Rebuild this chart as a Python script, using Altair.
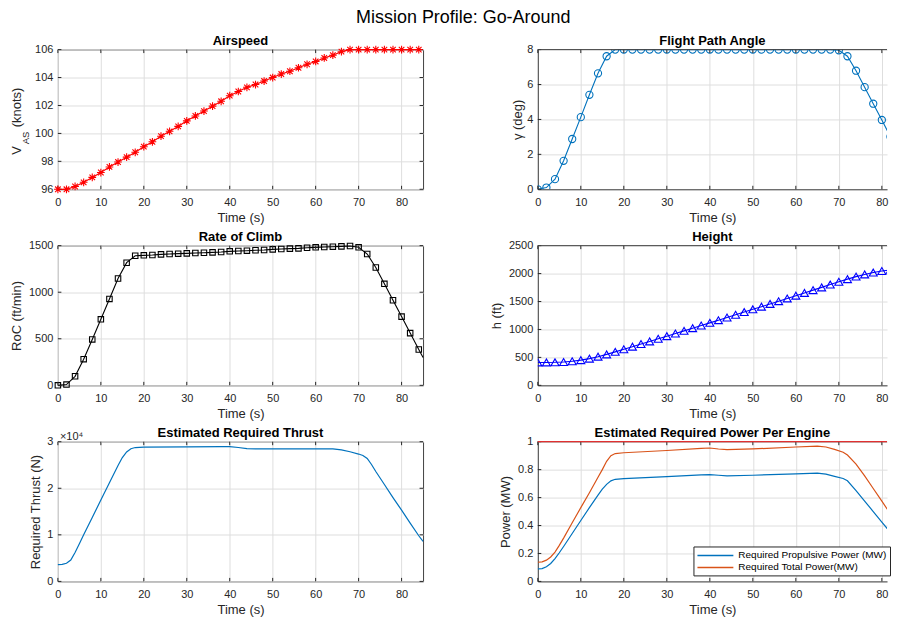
import altair as alt
import pandas as pd

FONT = "Liberation Sans"
INK = "#262626"
BOX = "#404040"

TIME_TICKS = [0, 10, 20, 30, 40, 50, 60, 70, 80]

# marker sample times (s)
T_MARK = [0, 2, 4, 6, 8, 10, 12, 14, 16, 18, 20, 22, 24, 26, 28, 30, 32, 34, 36, 38, 40,
          42, 44, 46, 48, 50, 52, 54, 56, 58, 60, 62, 64, 66, 68, 70, 72, 74, 76, 78, 80, 82, 84]

AIRSPEED = [96.0, 96.0, 96.2, 96.5, 96.85, 97.2, 97.6, 97.95, 98.3, 98.65, 99.05, 99.4, 99.8,
            100.15, 100.5, 100.9, 101.25, 101.6, 101.95, 102.3, 102.7, 103.0, 103.3, 103.5,
            103.75, 104.0, 104.25, 104.45, 104.7, 104.95, 105.15, 105.4, 105.6, 105.85, 106.0,
            106.0, 106.0, 106.0, 106.0, 106.0, 106.0, 106.0, 106.0]

GAMMA = [0.0, 0.1, 0.58, 1.63, 2.88, 4.13, 5.41, 6.64, 7.62, 8.0, 8.0, 8.0, 8.0, 8.0, 8.0,
         8.0, 8.0, 8.0, 8.0, 8.0, 8.0, 8.0, 8.0, 8.0, 8.0, 8.0, 8.0, 8.0, 8.0, 8.0, 8.0, 8.0,
         8.0, 8.0, 8.0, 7.96, 7.62, 6.79, 5.85, 4.9, 3.97, 3.01, 2.09]

ROC = [0, 8, 97, 281, 493, 709, 928, 1147, 1317, 1392, 1396, 1399, 1406, 1410, 1414, 1417,
       1421, 1424, 1428, 1432, 1439, 1442, 1446, 1450, 1453, 1460, 1464, 1468, 1471, 1478,
       1482, 1485, 1489, 1492, 1496, 1482, 1410, 1266, 1090, 914, 738, 561, 385]

HEIGHT = [410, 410, 412, 418, 431, 451, 478, 513, 554, 599, 646, 692, 739, 786, 833, 880,
          928, 975, 1023, 1070, 1118, 1166, 1214, 1263, 1311, 1360, 1408, 1457, 1506, 1555,
          1605, 1654, 1704, 1753, 1803, 1853, 1901, 1946, 1985, 2018, 2046, 2067, 2083]

# line continues to the right edge of the axes
T_END = [85]
GAMMA_END = [1.6]
ROC_END = [300]
HEIGHT_END = [2090]

T_THRUST = [0, 1, 2, 3, 4, 5, 6, 8, 10, 12, 14, 15, 16, 17, 18, 20, 30, 38, 40, 42, 44, 46,
            55, 64, 66, 68, 70, 71, 72, 73, 74, 76, 78, 80, 82, 84, 85]
THRUST = [3600, 3650, 3900, 4600, 6200, 8100, 10000, 13700, 17500, 21200, 24900, 26600,
          27800, 28500, 28750, 28850, 28900, 28950, 28950, 28750, 28500, 28450, 28450, 28450,
          28250, 27850, 27350, 27050, 26400, 25100, 23600, 20800, 18000, 15300, 12500, 9800,
          8600]

T_POWER = [0, 1, 2, 3, 4, 5, 6, 8, 10, 12, 14, 15, 16, 17, 18, 20, 30, 38, 40, 42, 44, 50,
           60, 65, 67, 69, 71, 72, 74, 76, 78, 80, 82, 84, 85]
P_PROP = [0.089, 0.092, 0.105, 0.128, 0.163, 0.205, 0.25, 0.343, 0.436, 0.528, 0.618, 0.66,
          0.695, 0.72, 0.731, 0.736, 0.75, 0.762, 0.765, 0.76, 0.755, 0.76, 0.77, 0.775,
          0.768, 0.752, 0.737, 0.72, 0.65, 0.575, 0.50, 0.425, 0.35, 0.27, 0.235]
P_TOTAL = [0.137, 0.14, 0.152, 0.175, 0.21, 0.258, 0.31, 0.42, 0.528, 0.635, 0.745, 0.80,
           0.86, 0.90, 0.915, 0.921, 0.937, 0.952, 0.955, 0.948, 0.943, 0.948, 0.962, 0.968,
           0.962, 0.945, 0.925, 0.905, 0.84, 0.755, 0.665, 0.575, 0.483, 0.39, 0.345]
POWER_LIMIT = [1.0]
SERIES = ["Required Propulsive Power (MW)", "Required Total Power(MW)"]

Y_AIR = [96, 98, 100, 102, 104, 106]
Y_GAM = [0, 2, 4, 6, 8]
Y_ROC = [0, 500, 1000, 1500]
Y_H = [0, 500, 1000, 1500, 2000, 2500]
Y_THR = [0, 10000, 20000, 30000]
Y_POW = [0, 0.2, 0.4, 0.6, 0.8, 1]

W_LEFT, W_RIGHT, H = 366, 350, 140
X_MAX_LEFT = 85
X_MAX_RIGHT = 81.2   # the right column is cut by the figure edge
TICK = 3.5
STAR = "M0,-1L0,1M-1,0L1,0M-0.72,-0.72L0.72,0.72M-0.72,0.72L0.72,-0.72"
LABEL = "'' + datum.value"


def xenc(xmax, right=False):
    kw = dict(values=TIME_TICKS, title="Time (s)", labelExpr=LABEL, labelFlush=False,
              labelOverlap=False)
    if right:
        kw.update(domain=True, domainColor=BOX, domainWidth=1)
    return alt.X("t:Q", scale=alt.Scale(domain=[0, xmax], nice=False, zero=False),
                 axis=alt.Axis(**kw))


def yenc(field, values, title, extent, label_expr=LABEL, right=False):
    kw = dict(values=values, minExtent=extent, maxExtent=extent, labelExpr=label_expr,
              title=title, labelOverlap=False, labelFlush=False)
    if right:
        kw.update(domain=True, domainColor=BOX, domainWidth=1)
    return alt.Y(f"{field}:Q",
                 scale=alt.Scale(domain=[values[0], values[-1]], nice=False, zero=False),
                 axis=alt.Axis(**kw))


def frame(x_enc, y_enc, field, yvals, width, right):
    """MATLAB-like box: inward ticks on the sides, top edge for cut-off panels."""
    df_xt = pd.DataFrame({"t": TIME_TICKS})
    df_yt = pd.DataFrame({field: yvals})
    layers = [
        alt.Chart(df_xt).mark_rule(color=INK, strokeWidth=1).encode(
            x=x_enc, y=alt.value(H), y2=alt.value(H - TICK)),
        alt.Chart(df_xt).mark_rule(color=INK, strokeWidth=1).encode(
            x=x_enc, y=alt.value(0), y2=alt.value(TICK)),
        alt.Chart(df_yt).mark_rule(color=INK, strokeWidth=1).encode(
            y=y_enc, x=alt.value(0), x2=alt.value(TICK)),
    ]
    if right:
        df_top = pd.DataFrame({field: [yvals[-1]]})
        layers.append(alt.Chart(df_top).mark_rule(color=BOX, strokeWidth=1).encode(y=y_enc))
    else:
        layers.append(alt.Chart(df_yt).mark_rule(color=INK, strokeWidth=1).encode(
            y=y_enc, x=alt.value(width - TICK), x2=alt.value(width)))
    return layers


def panel_title(text, offset=-4):
    return alt.TitleParams(text=text, font=FONT, fontSize=13, fontWeight="bold",
                           color="black", offset=offset, anchor="middle")


def one_row():
    return alt.Data(values=[{"k": 0}])


x_l = xenc(X_MAX_LEFT)
x_r = xenc(X_MAX_RIGHT, right=True)
NO_BOX = alt.ViewBackground(stroke="transparent")

# ---------- Airspeed ----------
df_air = pd.DataFrame({"t": T_MARK, "v": AIRSPEED})
y_air = yenc("v", Y_AIR, None, 35)
air = alt.layer(
    alt.Chart(df_air).mark_line(color="#FF0000", strokeWidth=1.2).encode(x=x_l, y=y_air),
    *frame(x_l, y_air, "v", Y_AIR, W_LEFT, False),
    alt.Chart(df_air).mark_point(shape=STAR, size=60, filled=False, color="#FF0000",
                                 strokeWidth=1.1, opacity=1).encode(x=x_l, y=y_air),
    alt.Chart(one_row()).mark_text(text="(knots)", angle=270, align="center",
                                   baseline="alphabetic", font=FONT, fontSize=13,
                                   color=INK).encode(x=alt.value(-37.4), y=alt.value(58)),
    alt.Chart(one_row()).mark_text(text="V", angle=270, align="center",
                                   baseline="alphabetic", font=FONT, fontSize=13,
                                   color=INK).encode(x=alt.value(-37.4), y=alt.value(101)),
    alt.Chart(one_row()).mark_text(text="AS", angle=270, align="center",
                                   baseline="alphabetic", font=FONT, fontSize=9.5,
                                   color=INK).encode(x=alt.value(-29), y=alt.value(88.5)),
).properties(width=W_LEFT, height=H, title=panel_title("Airspeed"))

# ---------- Flight path angle (right column) ----------
df_gam = pd.DataFrame({"t": T_MARK + T_END, "v": GAMMA + GAMMA_END})
y_gam = yenc("v", Y_GAM, "γ (deg)", 13, right=True)
gam = alt.layer(
    alt.Chart(df_gam).mark_line(color="#0072BD", strokeWidth=1.1, clip=True).encode(
        x=x_r, y=y_gam),
    alt.Chart(df_gam).transform_filter("datum.t % 2 == 0").mark_point(
        shape="circle", size=52, filled=False, color="#0072BD", strokeWidth=1.1,
        opacity=1, clip=True).encode(x=x_r, y=y_gam),
    *frame(x_r, y_gam, "v", Y_GAM, W_RIGHT, True),
).properties(width=W_RIGHT, height=H, title=panel_title("Flight Path Angle"), view=NO_BOX)

# ---------- Rate of climb ----------
df_roc = pd.DataFrame({"t": T_MARK + T_END, "v": ROC + ROC_END})
y_roc = yenc("v", Y_ROC, "RoC (ft/min)", 34.5)
roc = alt.layer(
    alt.Chart(df_roc).mark_line(color="black", strokeWidth=1.1).encode(x=x_l, y=y_roc),
    alt.Chart(df_roc).transform_filter("datum.t % 2 == 0").mark_point(
        shape="square", size=30, filled=False, color="black", strokeWidth=1.1,
        opacity=1).encode(x=x_l, y=y_roc),
    *frame(x_l, y_roc, "v", Y_ROC, W_LEFT, False),
).properties(width=W_LEFT, height=H, title=panel_title("Rate of Climb"))

# ---------- Height (right column) ----------
df_h = pd.DataFrame({"t": T_MARK + T_END, "v": HEIGHT + HEIGHT_END})
y_h = yenc("v", Y_H, "h (ft)", 34, right=True)
hgt = alt.layer(
    alt.Chart(df_h).mark_line(color="#0000FF", strokeWidth=1.1, clip=True).encode(
        x=x_r, y=y_h),
    alt.Chart(df_h).transform_filter("datum.t % 2 == 0").mark_point(
        shape="triangle-up", size=64, filled=False, color="#0000FF", strokeWidth=1.1,
        opacity=1, clip=True).encode(x=x_r, y=y_h),
    *frame(x_r, y_h, "v", Y_H, W_RIGHT, True),
).properties(width=W_RIGHT, height=H, title=panel_title("Height"), view=NO_BOX)

# ---------- Thrust ----------
df_thr = pd.DataFrame({"t": T_THRUST, "v": THRUST})
y_thr = yenc("v", Y_THR, "Required Thrust (N)", 15.7,
             label_expr="'' + datum.value / 10000")
thr = alt.layer(
    alt.Chart(df_thr).mark_line(color="#0072BD", strokeWidth=1.2).encode(x=x_l, y=y_thr),
    *frame(x_l, y_thr, "v", Y_THR, W_LEFT, False),
    alt.Chart(one_row()).mark_text(text="×10⁴", align="left", baseline="alphabetic",
                                   font=FONT, fontSize=11, color=INK).encode(
        x=alt.value(2), y=alt.value(-2)),
).properties(width=W_LEFT, height=H,
             title=panel_title("Estimated Required Thrust", offset=-9))

# ---------- Power (right column) ----------
df_pow = pd.DataFrame({
    "t": T_POWER + T_POWER,
    "p": P_PROP + P_TOTAL,
    "s": [SERIES[0]] * len(T_POWER) + [SERIES[1]] * len(T_POWER),
})
df_lim = pd.DataFrame({"p": POWER_LIMIT})
y_pow = yenc("p", Y_POW, "Power (MW)", 25, right=True)
pw = alt.layer(
    alt.Chart(df_pow).mark_line(strokeWidth=1.2, clip=True).encode(
        x=x_r, y=y_pow,
        color=alt.Color("s:N", sort=SERIES,
                        scale=alt.Scale(domain=SERIES, range=["#0072BD", "#D95319"]),
                        legend=alt.Legend(
                            title=None, orient="none", legendX=156, legendY=105,
                            fillColor="white", strokeColor=INK, padding=3,
                            symbolType="M-3.6,0L3.6,0", symbolSize=100,
                            symbolStrokeWidth=1.5, symbolOffset=13, labelOffset=17,
                            labelFont=FONT, labelFontSize=10, labelColor="black",
                            labelLimit=0, rowPadding=1, cornerRadius=0)),
    ),
    *frame(x_r, y_pow, "p", Y_POW, W_RIGHT, True),
    alt.Chart(df_lim).mark_rule(color="#E03030", strokeWidth=1.2).encode(y=y_pow),
).properties(width=W_RIGHT, height=H, title=panel_title("Estimated Required Power Per Engine"),
             view=NO_BOX)

chart = alt.concat(
    air, gam, roc, hgt, thr, pw, columns=2, bounds="flush",
    spacing={"row": 56.5, "column": 115},
    title=alt.TitleParams(text="Mission Profile: Go-Around", font=FONT, fontSize=18,
                          fontWeight="normal", color="black", anchor="middle",
                          frame="bounds", dx=12.8, offset=6.9),
).resolve_scale(color="independent").properties(
    padding={"left": 2, "top": 0, "right": 0, "bottom": 0},
    background="white",
).configure_view(
    stroke=BOX, strokeWidth=1,
).configure_axis(
    labelFont=FONT, titleFont=FONT, labelFontSize=11, titleFontSize=13,
    labelColor=INK, titleColor=INK, titleFontWeight="normal",
    gridColor="#dedede", gridWidth=1, domain=False, ticks=False, tickSize=0,
    labelPadding=5,
).configure_axisX(
    labelPadding=7, titlePadding=4,
).configure_axisY(
    titlePadding=0,
)

chart.save("out.html", embed_options={"renderer": "svg", "actions": False})
